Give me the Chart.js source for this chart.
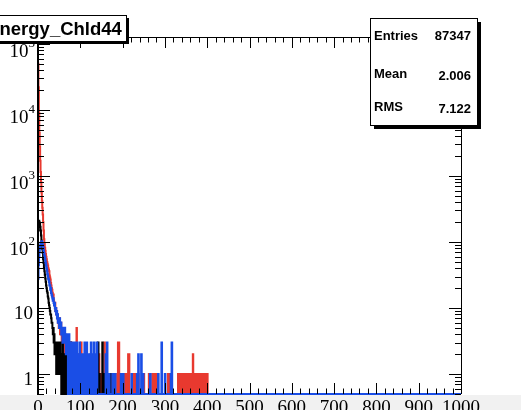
<!DOCTYPE html>
<html>
<head>
<meta charset="utf-8">
<script src="https://cdn.jsdelivr.net/npm/chart.js@4.4.1/dist/chart.umd.min.js"></script>
<style>
  html, body { margin: 0; padding: 0; background: #fff; }
  canvas { display: block; }
</style>
</head>
<body>
<canvas id="chart" width="521" height="410"></canvas>
<script>
(function () {
    "use strict";

    // Histogram title and stats box
    const histName = "Energy_Chld44";
    const statLabels = ["Entries", "Mean", "RMS"];
    const statValues = ["87347", "2.006", "7.122"];

    // Axis ranges and tick labels
    const xMin = 0;
    const xMax = 1000;
    const yMin = 0.5;
    const yMax = 1.27e5;
    const xTickLabels = ["0", "100", "200", "300", "400", "500", "600", "700", "800", "900", "1000"];
    const yTickExponents = [0, 1, 2, 3, 4, 5];

    // Bin contents (1 unit wide bins), first 70 bins dense, the rest sparse
    const redHead = [
        50000, 22000, 9000, 4500, 2800, 1700, 1150, 800, 560, 420,
        330, 260, 200, 150, 110, 95, 82, 74, 66, 60,
        55, 50, 47, 44, 40, 38, 36, 31, 29, 27,
        24, 22, 20, 19, 17, 15, 16, 13, 12, 11,
        12, 9, 10, 8, 9, 7, 8, 6, 7, 5,
        6, 7, 4, 5, 6, 4, 3, 5, 4, 3,
        5, 4, 2, 3, 4, 2, 3, 0, 2, 3,
    ];
    const redTailBins = [
        72, 75, 78, 81, 85, 88, 91, 94, 98, 102, 107, 113, 118, 124, 130, 137,
        144, 150, 157, 161, 163, 166, 168, 170, 176, 183, 189, 191, 199, 201,
        204, 207, 210, 213, 215, 227, 229, 232, 235, 237, 250, 262, 270, 273,
        278, 281, 307, 310, 312, 331, 333, 334, 336, 338, 339, 341, 343, 345,
        346, 348, 350, 351, 353, 355, 357, 358, 360, 362, 364, 366, 367, 369,
        371, 373, 374, 376, 378, 380, 381, 383, 385, 387, 389, 390, 392, 394,
        396, 398, 400,
    ];
    const redTailCounts = [
        2, 1, 3, 1, 2, 1, 5, 2, 1, 3, 1, 2, 1, 2, 1, 1,
        2, 1, 3, 1, 1, 1, 1, 1, 1, 1, 3, 3, 1, 1,
        1, 1, 1, 2, 2, 1, 1, 1, 1, 1, 1, 1, 1, 1,
        1, 1, 1, 1, 1, 1, 1, 1, 1, 1, 1, 1, 1, 1,
        1, 1, 1, 1, 1, 1, 1, 1, 1, 1, 1, 2, 1, 1,
        1, 1, 1, 1, 1, 1, 1, 1, 1, 1, 1, 1, 1, 1,
        1, 1, 1,
    ];

    const blackHead = [
        150, 180, 210, 200, 190, 170, 150, 125, 105, 90,
        78, 68, 55, 48, 40, 36, 32, 28, 25, 22,
        20, 18, 17, 15, 14, 12, 11, 10, 9, 8,
        8, 7, 6, 6, 5, 4, 5, 3, 4, 2,
        3, 2, 3, 1, 2, 3, 1, 2, 3, 2,
        1, 2, 3, 1, 2, 0, 2, 1, 3, 1,
        0, 2, 1, 0, 2, 1, 0, 1, 2, 0,
    ];
    const blackTailBins = [
        70, 72, 74, 76, 77, 80, 82, 84, 89, 95, 101, 108, 117, 125, 142, 145,
        152, 155, 158, 163, 171, 178,
    ];
    const blackTailCounts = [
        2, 1, 2, 1, 3, 1, 2, 1, 1, 1, 1, 1, 1, 1, 3, 1,
        3, 1, 1, 1, 1, 1,
    ];

    const blueHead = [
        28, 45, 60, 70, 80, 88, 95, 100, 98, 102,
        96, 90, 84, 75, 68, 62, 58, 52, 48, 44,
        40, 37, 33, 31, 28, 27, 25, 22, 22, 19,
        20, 17, 16, 15, 14, 13, 14, 12, 11, 12,
        10, 9, 10, 8, 9, 7, 8, 6, 7, 6,
        5, 7, 5, 6, 6, 4, 5, 5, 3, 4,
        5, 3, 4, 5, 3, 4, 2, 3, 4, 2,
    ];
    const blueTailBins = [
        70, 72, 73, 76, 79, 80, 83, 85, 88, 91, 93, 96, 98, 102, 106, 110,
        115, 117, 122, 125, 130, 132, 137, 139, 160, 163, 168, 176, 182, 196,
        201, 221, 234, 237, 244, 248, 265, 284, 292, 300, 314, 316,
    ];
    const blueTailCounts = [
        3, 2, 4, 3, 2, 3, 2, 3, 2, 3, 2, 2, 3, 2, 2, 3,
        3, 2, 2, 3, 2, 3, 2, 3, 2, 3, 1, 1, 1, 1,
        1, 1, 1, 2, 2, 1, 1, 1, 3, 1, 1, 3,
    ];

    const red = "#e8392f";
    const blue = "#1a4ee6";
    const black = "#000000";

    // Turn bin contents into left-edge step points; empty bins sit on the axis floor
    const toPoints = (head, tailBins, tailCounts) => {
        const counts = new Array(xMax - xMin).fill(0);
        head.forEach((v, i) => (counts[i] = v));
        tailBins.forEach((b, i) => (counts[b] = tailCounts[i]));
        const pts = counts.map((v, i) => ({ x: xMin + i, y: v > 0 ? v : yMin }));
        pts.push({ x: xMax, y: yMin });
        return pts;
    };

    const histDataset = (points, color, width, order) => ({
        data: points,
        borderColor: color,
        borderWidth: width,
        pointRadius: 0,
        stepped: true,
        fill: false,
        order: order,
        clip: { left: 2, top: 0, right: 0, bottom: 2 },
    });

    const serif = "'Liberation Serif', 'DejaVu Serif', serif";
    const sans = "'Liberation Sans', Arial, sans-serif";

    const rootFrame = {
        id: "rootFrame",
        beforeDraw(chart) {
            const ctx = chart.ctx;
            ctx.save();
            ctx.fillStyle = "#ffffff";
            ctx.fillRect(0, 0, chart.width, chart.height);
            ctx.fillStyle = "#f1f1f1";
            ctx.fillRect(0, chart.chartArea.bottom + 1, chart.width, chart.height);
            ctx.restore();
        },
        afterDatasetsDraw(chart) {
            const ctx = chart.ctx;
            const area = chart.chartArea;
            const xs = chart.scales.x;
            const ys = chart.scales.y;
            ctx.save();

            // frame
            ctx.strokeStyle = "#000";
            ctx.lineWidth = 1;
            ctx.beginPath();
            ctx.moveTo(area.left, area.top + 0.5);
            ctx.lineTo(area.right, area.top + 0.5);
            ctx.moveTo(area.right + 0.5, area.top);
            ctx.lineTo(area.right + 0.5, area.bottom);
            ctx.stroke();
            ctx.lineWidth = 2;
            ctx.beginPath();
            ctx.moveTo(area.left, area.top);
            ctx.lineTo(area.left, area.bottom + 1);
            ctx.stroke();

            // x ticks, bottom and top, every 20 with majors every 100
            ctx.lineWidth = 1;
            ctx.beginPath();
            for (let v = xMin; v <= xMax; v += 20) {
                const px = Math.round(xs.getPixelForValue(v)) + 0.5;
                const len = v % 100 === 0 ? 11 : 5.5;
                ctx.moveTo(px, area.bottom);
                ctx.lineTo(px, area.bottom - len);
                ctx.moveTo(px, area.top);
                ctx.lineTo(px, area.top + len);
            }
            // y ticks, left and right, log decades with 2..9 minors
            for (let e = -1; e <= 5; e++) {
                for (let m = 1; m <= 9; m++) {
                    const v = m * Math.pow(10, e);
                    if (v < yMin || v > yMax) continue;
                    const py = Math.round(ys.getPixelForValue(v)) + 0.5;
                    const len = m === 1 ? 12 : 6;
                    ctx.moveTo(area.left, py);
                    ctx.lineTo(area.left + len, py);
                    ctx.moveTo(area.right, py);
                    ctx.lineTo(area.right - len, py);
                }
            }
            ctx.stroke();

            // x labels
            ctx.fillStyle = "#000";
            ctx.font = "19px " + serif;
            ctx.textAlign = "center";
            ctx.textBaseline = "alphabetic";
            xTickLabels.forEach((label) => {
                ctx.fillText(label, xs.getPixelForValue(Number(label)), area.bottom + 19);
            });

            // y labels: 1, 10, 10^2 ...
            yTickExponents.forEach((e) => {
                const py = ys.getPixelForValue(Math.pow(10, e));
                ctx.textAlign = "right";
                if (e === 0 || e === 1) {
                    ctx.font = "19px " + serif;
                    ctx.fillText(e === 0 ? "1" : "10", area.left - 5, py + 11);
                } else {
                    ctx.font = "13px " + serif;
                    ctx.fillText(String(e), area.left - 3, py + 3);
                    const supW = ctx.measureText(String(e)).width;
                    ctx.font = "19px " + serif;
                    ctx.fillText("10", area.left - 3 - supW, py + 13);
                }
            });

            // title box with shadow, text runs off the left edge
            const tb = { x: -6, y: 15, w: 132, h: 26 };
            ctx.fillStyle = "#000";
            ctx.fillRect(tb.x + 3, tb.y + 3, tb.w, tb.h);
            ctx.fillStyle = "#fff";
            ctx.fillRect(tb.x, tb.y, tb.w, tb.h);
            ctx.strokeStyle = "#000";
            ctx.lineWidth = 1;
            ctx.strokeRect(tb.x + 0.5, tb.y + 0.5, tb.w, tb.h);
            ctx.fillStyle = "#000";
            ctx.font = "bold 18.5px " + sans;
            ctx.textAlign = "left";
            ctx.fillText(histName, -ctx.measureText(histName.charAt(0)).width - 0.5, tb.y + 20);

            // stats box with shadow
            const sb = { x: 370, y: 18, w: 107, h: 107 };
            ctx.fillStyle = "#000";
            ctx.fillRect(sb.x + 4, sb.y + 4, sb.w, sb.h);
            ctx.fillStyle = "#fff";
            ctx.fillRect(sb.x, sb.y, sb.w, sb.h);
            ctx.strokeRect(sb.x + 0.5, sb.y + 0.5, sb.w, sb.h);
            ctx.fillStyle = "#000";
            ctx.font = "bold 13px " + sans;
            const rowY = [40, 78, 111];
            statLabels.forEach((label, i) => {
                ctx.textAlign = "left";
                ctx.fillText(label, sb.x + 4, rowY[i]);
                ctx.textAlign = "right";
                ctx.fillText(statValues[i], sb.x + sb.w - 6, rowY[i] + (i === 0 ? 0 : 2));
            });

            ctx.restore();
        },
    };

    const ctx = document.getElementById("chart").getContext("2d");
    new Chart(ctx, {
        type: "line",
        data: {
            datasets: [
                histDataset(toPoints(redHead, redTailBins, redTailCounts), red, 2, 3),
                histDataset(toPoints(blackHead, blackTailBins, blackTailCounts), black, 2, 2),
                histDataset(toPoints(blueHead, blueTailBins, blueTailCounts), blue, 2.2, 1),
            ],
        },
        options: {
            responsive: false,
            animation: false,
            parsing: false,
            normalized: true,
            layout: {
                padding: { left: 38, right: 60, top: 37, bottom: 16 },
            },
            plugins: {
                legend: { display: false },
                tooltip: { enabled: false },
            },
            scales: {
                x: { type: "linear", min: xMin, max: xMax, display: false },
                y: { type: "logarithmic", min: yMin, max: yMax, display: false },
            },
        },
        plugins: [rootFrame],
    });
})();
</script>
</body>
</html>
